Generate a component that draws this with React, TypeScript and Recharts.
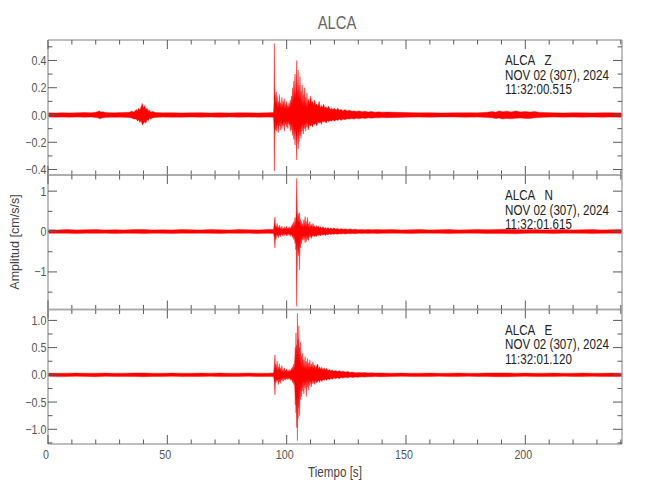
import React from 'react';
import { AreaChart, Area, XAxis, YAxis } from 'recharts';

const W = 650;
const H = 500;
const PLOT_LEFT = 48;
const PLOT_RIGHT = 622;
const FONT = "'Liberation Sans', Arial, sans-serif";
const AXIS = '#a8a8a8';
const TICK = '#5a5a5a';
const LABEL = '#555555';
const TRACE = '#ff0000';
const NARROW = 0.84;

const T_MAX = 240.5;
const timeMajor = [0, 50, 100, 150, 200];
const timeTicks = [0, 10, 20, 30, 40, 50, 60, 70, 80, 90, 100, 110, 120, 130, 140, 150, 160, 170, 180, 190, 200, 210, 220, 230, 240];

// [time (s), max, min] envelope of the trace
const zTrace: [number, number, number][] = [
  [0, 0.016, -0.014], [3, 0.014, -0.016], [6, 0.017, -0.015], [9, 0.015, -0.017],
  [12, 0.016, -0.014], [15, 0.018, -0.016], [18, 0.016, -0.015], [20, 0.02, -0.018],
  [21, 0.026, -0.02], [21.5, 0.032, -0.028], [22, 0.022, -0.026], [23, 0.024, -0.02],
  [24, 0.018, -0.018], [26, 0.017, -0.016], [28, 0.016, -0.017], [31, 0.018, -0.016],
  [34, 0.02, -0.018], [35, 0.028, -0.022], [36, 0.022, -0.03], [37, 0.04, -0.03],
  [37.5, 0.03, -0.045], [38, 0.05, -0.035], [38.5, 0.035, -0.055], [39, 0.06, -0.04],
  [39.5, 0.085, -0.075], [40, 0.05, -0.06], [40.5, 0.07, -0.05], [41, 0.04, -0.06],
  [41.5, 0.05, -0.035], [42, 0.03, -0.04], [42.5, 0.035, -0.025], [43, 0.022, -0.028],
  [44, 0.025, -0.02], [45, 0.018, -0.018], [48, 0.016, -0.015], [52, 0.017, -0.016],
  [56, 0.015, -0.016], [60, 0.016, -0.014], [64, 0.017, -0.016], [68, 0.015, -0.015],
  [72, 0.016, -0.017], [76, 0.015, -0.014], [80, 0.017, -0.016], [84, 0.016, -0.015],
  [88, 0.015, -0.016], [92, 0.017, -0.015], [94.5, 0.018, -0.017],
  [94.7, 0.1, -0.1], [94.85, 0.525, -0.41], [95.0, 0.2, -0.15], [95.2, 0.08, -0.06],
  [95.4, 0.14, -0.11], [95.6, 0.17, -0.07], [95.8, 0.07, -0.12], [96.0, 0.14, -0.1],
  [96.25, 0.06, -0.05], [96.5, 0.1, -0.13], [96.75, 0.05, -0.06], [97.0, 0.15, -0.08],
  [97.25, 0.06, -0.04], [97.5, 0.09, -0.11], [97.75, 0.05, -0.05], [98.0, 0.13, -0.1],
  [98.25, 0.05, -0.06], [98.5, 0.1, -0.08], [98.75, 0.07, -0.04], [99.0, 0.12, -0.12],
  [99.25, 0.04, -0.05], [99.5, 0.08, -0.07], [99.75, 0.05, -0.04], [100.0, 0.1, -0.09],
  [100.25, 0.04, -0.05], [100.5, 0.07, -0.1], [100.75, 0.05, -0.04], [101, 0.09, -0.07],
  [101.25, 0.05, -0.06], [101.5, 0.11, -0.12], [101.75, 0.06, -0.06], [102, 0.14, -0.11],
  [102.25, 0.08, -0.06], [102.5, 0.2, -0.15], [102.75, 0.1, -0.09], [103, 0.25, -0.18],
  [103.25, 0.12, -0.1], [103.5, 0.3, -0.22], [103.75, 0.12, -0.1], [103.95, 0.18, -0.16],
  [104.2, 0.4, -0.33], [104.4, 0.12, -0.1], [104.6, 0.2, -0.17], [104.8, 0.33, -0.25],
  [105.0, 0.12, -0.1], [105.2, 0.22, -0.2], [105.4, 0.1, -0.08], [105.6, 0.28, -0.15],
  [105.8, 0.1, -0.09], [106, 0.18, -0.17], [106.25, 0.08, -0.07], [106.5, 0.22, -0.12],
  [106.75, 0.07, -0.06], [107, 0.15, -0.14], [107.25, 0.06, -0.06], [107.5, 0.2, -0.1],
  [107.75, 0.06, -0.05], [108, 0.13, -0.12], [108.25, 0.05, -0.05], [108.5, 0.16, -0.09],
  [108.75, 0.05, -0.05], [109, 0.12, -0.11], [109.5, 0.08, -0.07], [110, 0.14, -0.08],
  [110.4, 0.09, -0.07], [110.8, 0.1, -0.09], [111.3, 0.07, -0.06], [111.7, 0.11, -0.07],
  [112.2, 0.07, -0.06], [112.6, 0.08, -0.08], [113.1, 0.06, -0.05], [113.6, 0.1, -0.06],
  [114.1, 0.05, -0.05], [114.5, 0.07, -0.07], [115, 0.055, -0.045], [115.5, 0.08, -0.05],
  [116, 0.05, -0.045], [116.5, 0.06, -0.06], [117, 0.045, -0.04], [117.6, 0.065, -0.05],
  [118.2, 0.04, -0.04], [118.8, 0.05, -0.045], [119.4, 0.04, -0.035], [120, 0.05, -0.045],
  [120.7, 0.035, -0.035], [121.4, 0.05, -0.04], [122.1, 0.035, -0.03], [122.8, 0.04, -0.04],
  [123.6, 0.03, -0.03], [124.4, 0.04, -0.035], [125.3, 0.03, -0.028], [126.2, 0.035, -0.03],
  [127.2, 0.028, -0.026], [128.2, 0.03, -0.03], [129.3, 0.026, -0.024], [130.4, 0.03, -0.028],
  [131.6, 0.024, -0.022], [132.8, 0.027, -0.025], [134.2, 0.022, -0.021], [135.6, 0.025, -0.023],
  [137, 0.02, -0.02], [138.5, 0.023, -0.021], [140, 0.02, -0.019], [142, 0.022, -0.02],
  [146, 0.02, -0.018], [150, 0.018, -0.017], [155, 0.016, -0.015], [160, 0.017, -0.016],
  [165, 0.015, -0.015], [170, 0.016, -0.014], [175, 0.017, -0.016], [180, 0.016, -0.015],
  [184, 0.02, -0.018], [186, 0.026, -0.02], [187.5, 0.02, -0.026], [189, 0.03, -0.022],
  [190.5, 0.024, -0.03], [192, 0.028, -0.025], [194, 0.022, -0.028], [196, 0.03, -0.024],
  [198, 0.022, -0.022], [200, 0.026, -0.025], [202, 0.022, -0.026], [204, 0.025, -0.02],
  [206, 0.018, -0.018], [208, 0.018, -0.017], [212, 0.016, -0.015], [216, 0.015, -0.016],
  [220, 0.017, -0.015], [224, 0.016, -0.016], [228, 0.015, -0.014], [232, 0.017, -0.016],
  [236, 0.016, -0.015], [240.5, 0.015, -0.016],
];

const nTrace: [number, number, number][] = [
  [0, 0.045, -0.04], [4, 0.04, -0.045], [8, 0.05, -0.04], [12, 0.04, -0.05],
  [16, 0.045, -0.04], [20, 0.05, -0.045], [24, 0.04, -0.04], [28, 0.045, -0.05],
  [32, 0.04, -0.04], [36, 0.05, -0.045], [40, 0.05, -0.05], [44, 0.04, -0.04],
  [48, 0.045, -0.045], [52, 0.04, -0.05], [56, 0.05, -0.04], [60, 0.045, -0.045],
  [64, 0.04, -0.04], [68, 0.05, -0.045], [72, 0.045, -0.05], [76, 0.04, -0.04],
  [80, 0.05, -0.045], [84, 0.045, -0.04], [88, 0.04, -0.05], [92, 0.05, -0.045],
  [94.5, 0.05, -0.05], [94.8, 0.2, -0.15], [95.1, 0.36, -0.41], [95.3, 0.1, -0.1],
  [95.5, 0.15, -0.2], [95.75, 0.08, -0.07], [96.0, 0.2, -0.12], [96.25, 0.07, -0.08],
  [96.5, 0.12, -0.15], [96.75, 0.06, -0.06], [97.0, 0.16, -0.1], [97.25, 0.06, -0.06],
  [97.5, 0.1, -0.13], [97.75, 0.06, -0.05], [98.0, 0.14, -0.09], [98.25, 0.05, -0.06],
  [98.5, 0.09, -0.12], [98.75, 0.06, -0.05], [99.0, 0.12, -0.1], [99.25, 0.05, -0.05],
  [99.5, 0.1, -0.08], [99.75, 0.06, -0.06], [100.0, 0.13, -0.11], [100.25, 0.05, -0.05],
  [100.5, 0.09, -0.1], [100.75, 0.06, -0.05], [101.0, 0.12, -0.08], [101.25, 0.06, -0.06],
  [101.5, 0.1, -0.12], [101.75, 0.07, -0.06], [102.0, 0.15, -0.1], [102.25, 0.08, -0.08],
  [102.5, 0.2, -0.15], [102.75, 0.1, -0.1], [103.0, 0.25, -0.2], [103.25, 0.12, -0.12],
  [103.5, 0.35, -0.3], [103.7, 0.15, -0.2], [103.85, 0.3, -0.45], [104.0, 0.5, -0.35],
  [104.2, 1.32, -1.85], [104.4, 0.6, -0.9], [104.6, 0.2, -0.25], [104.8, 0.45, -0.5],
  [105.0, 0.35, -0.6], [105.2, 0.2, -0.3], [105.4, 0.46, -0.95], [105.6, 0.15, -0.2],
  [105.8, 0.3, -0.4], [106.0, 0.12, -0.15], [106.2, 0.25, -0.3], [106.45, 0.1, -0.1],
  [106.7, 0.2, -0.22], [106.95, 0.1, -0.08], [107.2, 0.3, -0.2], [107.45, 0.12, -0.1],
  [107.7, 0.37, -0.28], [107.95, 0.12, -0.1], [108.2, 0.25, -0.25], [108.45, 0.1, -0.08],
  [108.7, 0.35, -0.2], [108.95, 0.1, -0.1], [109.2, 0.2, -0.22], [109.45, 0.08, -0.07],
  [109.7, 0.25, -0.15], [110.0, 0.1, -0.09], [110.3, 0.18, -0.17], [110.7, 0.1, -0.1],
  [111.0, 0.2, -0.12], [111.4, 0.11, -0.09], [111.8, 0.14, -0.13], [112.2, 0.09, -0.09],
  [112.6, 0.15, -0.12], [113.0, 0.1, -0.08], [113.4, 0.13, -0.1], [113.8, 0.08, -0.08],
  [114.2, 0.12, -0.11], [114.7, 0.08, -0.07], [115.2, 0.12, -0.09], [115.7, 0.075, -0.07],
  [116.2, 0.1, -0.1], [116.7, 0.07, -0.065], [117.3, 0.1, -0.08], [117.9, 0.065, -0.06],
  [118.5, 0.09, -0.075], [119.1, 0.06, -0.06], [119.8, 0.085, -0.07], [120.5, 0.06, -0.055],
  [121.2, 0.075, -0.07], [122.0, 0.055, -0.055], [122.8, 0.07, -0.06], [123.7, 0.055, -0.05],
  [124.6, 0.065, -0.06], [125.6, 0.05, -0.05], [126.6, 0.06, -0.055], [127.7, 0.048, -0.047],
  [128.8, 0.055, -0.052], [130.0, 0.047, -0.045], [131.3, 0.052, -0.05], [132.6, 0.045, -0.045],
  [134.0, 0.05, -0.047], [136.0, 0.046, -0.045], [138.0, 0.05, -0.048], [140.0, 0.045, -0.045],
  [144.0, 0.05, -0.04], [148.0, 0.04, -0.045], [152.0, 0.045, -0.05], [156.0, 0.05, -0.04],
  [160.0, 0.04, -0.04], [164.0, 0.045, -0.045], [168.0, 0.05, -0.05], [172.0, 0.04, -0.045],
  [176.0, 0.045, -0.04], [180.0, 0.05, -0.045], [184.0, 0.045, -0.05], [188.0, 0.05, -0.05],
  [192.0, 0.055, -0.05], [196.0, 0.05, -0.055], [200.0, 0.045, -0.045], [204.0, 0.05, -0.04],
  [208.0, 0.04, -0.045], [212.0, 0.045, -0.05], [216.0, 0.05, -0.04], [220.0, 0.04, -0.04],
  [224.0, 0.045, -0.045], [228.0, 0.05, -0.05], [232.0, 0.04, -0.045], [236.0, 0.045, -0.04],
  [240.5, 0.05, -0.045],
];

const eTrace: [number, number, number][] = [
  [0, 0.032, -0.028], [4, 0.028, -0.032], [8, 0.03, -0.03], [12, 0.033, -0.028],
  [16, 0.028, -0.03], [20, 0.03, -0.033], [24, 0.032, -0.028], [28, 0.028, -0.03],
  [32, 0.03, -0.032], [36, 0.033, -0.03], [40, 0.035, -0.033], [44, 0.03, -0.03],
  [48, 0.028, -0.032], [52, 0.032, -0.028], [56, 0.03, -0.03], [60, 0.028, -0.032],
  [64, 0.032, -0.03], [68, 0.03, -0.028], [72, 0.033, -0.032], [76, 0.028, -0.03],
  [80, 0.03, -0.03], [84, 0.032, -0.028], [88, 0.03, -0.032], [92, 0.028, -0.03],
  [94.5, 0.035, -0.03], [94.8, 0.15, -0.12], [95.1, 0.366, -0.366], [95.3, 0.1, -0.08],
  [95.5, 0.2, -0.15], [95.75, 0.09, -0.07], [96.0, 0.25, -0.12], [96.25, 0.08, -0.08],
  [96.5, 0.15, -0.18], [96.75, 0.07, -0.07], [97.0, 0.2, -0.13], [97.25, 0.07, -0.06],
  [97.5, 0.13, -0.16], [97.75, 0.06, -0.06], [98.0, 0.17, -0.1], [98.25, 0.05, -0.06],
  [98.5, 0.1, -0.12], [98.75, 0.05, -0.05], [99.0, 0.13, -0.09], [99.25, 0.05, -0.05],
  [99.5, 0.09, -0.1], [99.75, 0.05, -0.05], [100.0, 0.11, -0.08], [100.25, 0.05, -0.05],
  [100.5, 0.08, -0.09], [100.75, 0.05, -0.05], [101.0, 0.1, -0.08], [101.25, 0.05, -0.05],
  [101.5, 0.09, -0.1], [101.75, 0.06, -0.06], [102.0, 0.12, -0.1], [102.25, 0.07, -0.07],
  [102.5, 0.15, -0.14], [102.75, 0.09, -0.09], [103.0, 0.2, -0.18], [103.2, 0.12, -0.12],
  [103.4, 0.3, -0.25], [103.6, 0.5, -0.55], [103.75, 0.25, -0.3], [103.9, 0.77, -0.7],
  [104.05, 0.3, -0.4], [104.2, 0.55, -0.97], [104.35, 0.4, -0.5], [104.5, 1.13, -1.21],
  [104.65, 0.35, -0.4], [104.8, 0.65, -0.8], [104.95, 0.3, -0.35], [105.1, 0.9, -0.6],
  [105.25, 0.25, -0.3], [105.4, 0.5, -0.75], [105.6, 0.2, -0.2], [105.8, 0.6, -0.45],
  [106.0, 0.15, -0.18], [106.2, 0.35, -0.4], [106.45, 0.12, -0.12], [106.7, 0.4, -0.3],
  [106.95, 0.12, -0.1], [107.2, 0.28, -0.35], [107.45, 0.1, -0.12], [107.7, 0.33, -0.25],
  [107.95, 0.1, -0.1], [108.2, 0.25, -0.4], [108.45, 0.1, -0.1], [108.7, 0.3, -0.22],
  [108.95, 0.09, -0.08], [109.2, 0.22, -0.28], [109.45, 0.1, -0.09], [109.7, 0.28, -0.2],
  [110.0, 0.12, -0.1], [110.3, 0.2, -0.22], [110.7, 0.12, -0.1], [111.0, 0.24, -0.16],
  [111.4, 0.12, -0.11], [111.8, 0.18, -0.18], [112.2, 0.11, -0.1], [112.6, 0.17, -0.15],
  [113.0, 0.2, -0.12], [113.4, 0.1, -0.1], [113.8, 0.15, -0.14], [114.2, 0.1, -0.09],
  [114.7, 0.14, -0.12], [115.2, 0.09, -0.09], [115.7, 0.13, -0.1], [116.2, 0.08, -0.08],
  [116.7, 0.12, -0.1], [117.3, 0.075, -0.07], [117.9, 0.1, -0.09], [118.5, 0.07, -0.065],
  [119.1, 0.09, -0.08], [119.8, 0.065, -0.06], [120.5, 0.08, -0.07], [121.2, 0.06, -0.055],
  [122.0, 0.075, -0.07], [122.8, 0.055, -0.05], [123.7, 0.065, -0.06], [124.6, 0.05, -0.045],
  [125.6, 0.06, -0.055], [126.6, 0.045, -0.04], [127.7, 0.05, -0.05], [128.8, 0.04, -0.04],
  [130.0, 0.045, -0.043], [131.3, 0.038, -0.036], [132.6, 0.042, -0.04], [134.0, 0.035, -0.034],
  [135.5, 0.038, -0.036], [137.0, 0.033, -0.032], [138.5, 0.035, -0.034], [140.0, 0.033, -0.033],
  [144.0, 0.03, -0.032], [148.0, 0.032, -0.028], [152.0, 0.028, -0.03], [156.0, 0.03, -0.032],
  [160.0, 0.032, -0.03], [164.0, 0.028, -0.028], [168.0, 0.03, -0.032], [172.0, 0.033, -0.03],
  [176.0, 0.03, -0.028], [180.0, 0.028, -0.03], [184.0, 0.032, -0.032], [188.0, 0.035, -0.033],
  [192.0, 0.033, -0.035], [196.0, 0.03, -0.03], [200.0, 0.032, -0.028], [204.0, 0.028, -0.03],
  [208.0, 0.03, -0.032], [212.0, 0.032, -0.03], [216.0, 0.028, -0.028], [220.0, 0.03, -0.03],
  [224.0, 0.033, -0.032], [228.0, 0.03, -0.028], [232.0, 0.028, -0.03], [236.0, 0.032, -0.03],
  [240.5, 0.03, -0.032],
];

const zTicks = [-0.4, -0.3, -0.2, -0.1, 0, 0.1, 0.2, 0.3, 0.4, 0.5];
const zMajor = [-0.4, -0.2, 0, 0.2, 0.4];
const nTicks = [-1.5, -1, -0.5, 0, 0.5, 1];
const nMajor = [-1, 0, 1];
const eTicks = [-1.25, -1, -0.75, -0.5, -0.25, 0, 0.25, 0.5, 0.75, 1];
const eMajor = [-1, -0.5, 0, 0.5, 1];

const station = 'ALCA';
const dateLabel = 'NOV 02 (307), 2024';

type Panel = {
  comp: string;
  start: string;
  trace: [number, number, number][];
  domain: [number, number];
  ticks: number[];
  major: number[];
  digits: number;
  top: number;
  bottom: number;
  xLabels: boolean;
};

const panels: Panel[] = [
  { comp: 'Z', start: '11:32:00.515', trace: zTrace, domain: [-0.44, 0.55], ticks: zTicks, major: zMajor, digits: 1, top: 40, bottom: 175, xLabels: false },
  { comp: 'N', start: '11:32:01.615', trace: nTrace, domain: [-1.93, 1.4], ticks: nTicks, major: nMajor, digits: 0, top: 175, bottom: 309.5, xLabels: false },
  { comp: 'E', start: '11:32:01.120', trace: eTrace, domain: [-1.27, 1.2], ticks: eTicks, major: eMajor, digits: 1, top: 309.5, bottom: 444, xLabels: true },
];

const isIn = (list: number[], v: number) => list.some((m) => Math.abs(m - v) < 1e-9);
const fmt = (v: number, d: number) => v.toFixed(d).replace('-', '\u2212');

// condensed look: the IDL font is narrow, so squeeze a regular sans horizontally
const Narrow = ({ x, y, size, fill, anchor = 'start', rotate = 0, scale = NARROW, dy, children }: any) => (
  <text
    transform={`translate(${x}, ${y}) rotate(${rotate}) scale(${scale}, 1)`}
    textAnchor={anchor}
    fontSize={size}
    fill={fill}
    stroke="none"
    fontFamily={FONT}
    dy={dy}
    style={{ whiteSpace: 'pre' }}
  >
    {children}
  </text>
);

const xTick = (side: 'top' | 'bottom', labels: boolean) => (props: any) => {
  const { x, y, payload } = props;
  const v = payload.value;
  const major = isIn(timeMajor, v);
  const len = major ? 9 : 4.5;
  const dir = side === 'bottom' ? -1 : 1;
  return (
    <g>
      <line x1={x} y1={y} x2={x} y2={y + dir * len} stroke={TICK} strokeWidth={1} />
      {labels && major && (
        <Narrow x={x - 2} y={y + 14.5} size={12.5} fill={LABEL} anchor="middle" scale={0.86}>{v}</Narrow>
      )}
    </g>
  );
};

const yTick = (side: 'left' | 'right', major: number[], digits: number) => (props: any) => {
  const { x, y, payload } = props;
  const v = payload.value;
  const isMajor = isIn(major, v);
  const len = isMajor ? 9 : 4.5;
  const dir = side === 'left' ? 1 : -1;
  return (
    <g>
      <line x1={x} y1={y} x2={x + dir * len} y2={y} stroke={TICK} strokeWidth={1} />
      {side === 'left' && isMajor && (
        <Narrow x={x - 1.5} y={y} dy="0.36em" size={12.5} fill={LABEL} anchor="end" scale={0.86}>
          {fmt(v, digits)}
        </Narrow>
      )}
    </g>
  );
};

const axisLine = { stroke: AXIS, strokeWidth: 1.5 };

const PanelChart = ({ p }: { p: Panel }) => {
  const rows = p.trace.map(([t, hi, lo]) => ({ t, band: [lo, hi] }));
  return (
    <AreaChart
      width={W}
      height={H}
      data={rows}
      margin={{ top: p.top - 1, bottom: H - p.bottom - 1, left: PLOT_LEFT - 1, right: W - PLOT_RIGHT - 1 }}
      style={{ position: 'absolute', left: 0, top: 0 }}
    >
      <XAxis xAxisId="b" dataKey="t" type="number" domain={[0, T_MAX]} allowDataOverflow ticks={timeTicks} interval={0}
        height={1} tickSize={0} tickMargin={0} tickLine={false} axisLine={axisLine} tick={xTick('bottom', p.xLabels)} />
      <XAxis xAxisId="t" orientation="top" dataKey="t" type="number" domain={[0, T_MAX]} allowDataOverflow ticks={timeTicks} interval={0}
        height={1} tickSize={0} tickMargin={0} tickLine={false} axisLine={axisLine} tick={xTick('top', false)} />
      <YAxis yAxisId="l" type="number" domain={p.domain} allowDataOverflow ticks={p.ticks} interval={0}
        width={1} tickSize={0} tickMargin={0} tickLine={false} axisLine={axisLine} tick={yTick('left', p.major, p.digits)} />
      <YAxis yAxisId="r" orientation="right" type="number" domain={p.domain} allowDataOverflow ticks={p.ticks} interval={0}
        width={1} tickSize={0} tickMargin={0} tickLine={false} axisLine={axisLine} tick={yTick('right', p.major, p.digits)} />
      <Area xAxisId="b" yAxisId="l" dataKey="band" type="linear" fill={TRACE} fillOpacity={1}
        stroke={TRACE} strokeWidth={0.4} dot={false} activeDot={false} isAnimationActive={false} />
    </AreaChart>
  );
};

export default function App() {
  const cx = (PLOT_LEFT + PLOT_RIGHT) / 2;
  return (
    <div style={{ position: 'absolute', left: 0, top: 0, width: W, height: H, background: '#fff' }}>
      {panels.map((p) => (
        <PanelChart key={p.comp} p={p} />
      ))}
      <svg width={W} height={H} style={{ position: 'absolute', left: 0, top: 0, pointerEvents: 'none' }}>
        <Narrow x={cx + 2} y={29} size={19} fill="#666" anchor="middle" scale={0.78}>{station}</Narrow>
        <Narrow x={cx} y={477} size={14} fill="#444" anchor="middle" scale={0.83}>Tiempo [s]</Narrow>
        <Narrow x={19} y={242} size={13.5} fill="#444" anchor="middle" rotate={-90} scale={0.93}>Amplitud [cm/s/s]</Narrow>
        {panels.map((p) => (
          <g key={p.comp}>
            <Narrow x={505} y={p.top + 25} size={14} fill="#222" scale={0.83}>{`${station}   ${p.comp}`}</Narrow>
            <Narrow x={505} y={p.top + 39.5} size={14} fill="#222" scale={0.83}>{dateLabel}</Narrow>
            <Narrow x={505} y={p.top + 54} size={14} fill="#222" scale={0.83}>{p.start}</Narrow>
          </g>
        ))}
      </svg>
    </div>
  );
}
